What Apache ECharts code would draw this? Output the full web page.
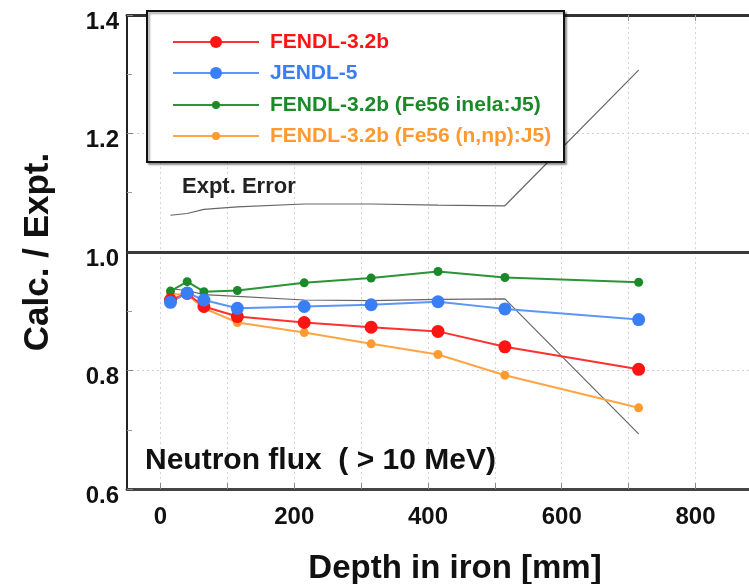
<!DOCTYPE html>
<html>
<head>
<meta charset="utf-8">
<script src="https://cdn.jsdelivr.net/npm/echarts@6/dist/echarts.min.js"></script>
<style>
  html, body { margin: 0; padding: 0; background: #fff; }
  #chart { width: 749px; height: 584px; }
</style>
</head>
<body>
<div id="chart"></div>
<script>
// Depth positions of the detectors in the iron assembly [mm]
const depth = [15, 40, 65, 115, 215, 315, 415, 515, 715];

// C/E ratios, neutron flux above 10 MeV
const fendl32b      = [0.919, 0.930, 0.908, 0.891, 0.881, 0.873, 0.866, 0.840, 0.802];
const jendl5        = [0.915, 0.931, 0.919, 0.905, 0.908, 0.911, 0.916, 0.904, 0.886];
const fendlInelaJ5  = [0.934, 0.950, 0.933, 0.935, 0.948, 0.956, 0.967, 0.957, 0.949];
const fendlNnpJ5    = [0.929, 0.928, 0.905, 0.881, 0.864, 0.845, 0.827, 0.792, 0.737];

// Experimental error band (upper / lower bounds around 1.0)
const errUpper = [1.062, 1.065, 1.072, 1.076, 1.081, 1.081, 1.079, 1.078, 1.307];
const errLower = [0.938, 0.935, 0.928, 0.925, 0.919, 0.918, 0.920, 0.921, 0.693];

// Axis tick values
const xLabelValues = [0, 200, 400, 600, 800];
const xTickValues  = [0, 100, 200, 300, 400, 500, 600, 700, 800];

const seriesNames = [
  'FENDL-3.2b',
  'JENDL-5',
  'FENDL-3.2b (Fe56 inela:J5)',
  'FENDL-3.2b (Fe56 (n,np):J5)'
];
const colors = ['#ff1414', '#3a7ef6', '#1a8a28', '#ff9a30'];
const lineColors = ['#ff3030', '#5c96f8', '#2a9436', '#ffa545'];

const FONT = '"Liberation Sans", Arial, Helvetica, sans-serif';

const pair = (ys) => depth.map((d, i) => [d, ys[i]]);

function dataSeries(idx, values, size, z) {
  return {
    name: seriesNames[idx],
    type: 'line',
    data: pair(values),
    symbol: 'circle',
    symbolSize: size,
    z: z,
    itemStyle: { color: colors[idx] },
    lineStyle: { color: lineColors[idx], width: 2 },
    emphasis: { disabled: true },
    animation: false
  };
}

const chart = echarts.init(document.getElementById('chart'), null, { renderer: 'canvas' });

chart.setOption({
  backgroundColor: '#ffffff',
  animation: false,
  textStyle: { fontFamily: FONT },
  grid: { left: 127, right: 0, top: 15, bottom: 95, containLabel: false, outerBoundsMode: 'none' },
  xAxis: [
    {
      type: 'value',
      position: 'bottom',
      min: -50,
      max: 880,
      name: 'Depth in iron [mm]',
      nameLocation: 'middle',
      nameGap: 63,
      nameTextStyle: {
        fontFamily: FONT, fontWeight: 'bold', fontSize: 33, color: '#111',
        padding: [0, 0, 0, 34]
      },
      axisLine: { show: true, onZero: false, lineStyle: { color: '#444', width: 3 } },
      axisTick: { show: true, inside: true, length: 6, customValues: xTickValues,
                  lineStyle: { color: '#888', width: 1 } },
      axisLabel: { customValues: xLabelValues, margin: 16,
                   fontFamily: FONT, fontWeight: 'bold', fontSize: 24, color: '#111' },
      splitLine: { show: false }
    },
    {
      type: 'value',
      position: 'top',
      min: -50,
      max: 880,
      axisLine: { show: true, onZero: false, lineStyle: { color: '#333', width: 3 } },
      axisTick: { show: true, inside: true, length: 6, customValues: xTickValues,
                  lineStyle: { color: '#999', width: 1 } },
      axisLabel: { show: false },
      splitLine: { show: false }
    }
  ],
  yAxis: {
    type: 'value',
    min: 0.6,
    max: 1.4,
    interval: 0.2,
    name: 'Calc. / Expt.',
    nameLocation: 'middle',
    nameGap: 71,
    nameTextStyle: { fontFamily: FONT, fontWeight: 'bold', fontSize: 35, color: '#111' },
    axisLine: { show: true, onZero: false, lineStyle: { color: '#222', width: 2 } },
    axisTick: { show: true, inside: true, length: 6, lineStyle: { color: '#888' } },
    minorTick: { show: true, splitNumber: 2, length: 5, lineStyle: { color: '#999' } },
    axisLabel: {
      margin: 8,
      verticalAlign: 'top',
      lineHeight: 14,
      fontFamily: FONT, fontWeight: 'bold', fontSize: 24, color: '#111',
      formatter: (v) => v.toFixed(1)
    },
    splitLine: { show: true, lineStyle: { color: '#d0d0d0', type: [2, 3], width: 1 } }
  },
  legend: [
    {
      data: [
        { name: seriesNames[0], textStyle: { color: colors[0] } },
        { name: seriesNames[1], textStyle: { color: colors[1] } }
      ],
      orient: 'vertical',
      left: 172,
      top: 31,
      padding: 0,
      itemWidth: 86,
      itemHeight: 15,
      itemGap: 9,
      z: 20,
      selectedMode: false,
      textStyle: { fontFamily: FONT, fontWeight: 'bold', fontSize: 21, lineHeight: 22,
                   padding: [0, 0, 0, 6] }
    },
    {
      data: [
        { name: seriesNames[2], textStyle: { color: colors[2] } },
        { name: seriesNames[3], textStyle: { color: colors[3] } }
      ],
      orient: 'vertical',
      left: 172,
      top: 94,
      padding: 0,
      itemWidth: 86,
      itemHeight: 10,
      itemGap: 9,
      z: 20,
      selectedMode: false,
      textStyle: { fontFamily: FONT, fontWeight: 'bold', fontSize: 21, lineHeight: 22,
                   padding: [0, 0, 0, 6] }
    }
  ],
  graphic: [
    {
      type: 'rect',
      z: 10,
      shape: { x: 147, y: 11, width: 417, height: 151 },
      style: {
        fill: '#ffffff', stroke: '#111', lineWidth: 2,
        shadowColor: 'rgba(0,0,0,0.35)', shadowBlur: 2, shadowOffsetX: 2, shadowOffsetY: 2
      }
    },
    {
      type: 'text',
      z: 5,
      left: 182,
      top: 176,
      style: { text: 'Expt. Error', fontFamily: FONT, fontWeight: 'bold', fontSize: 22, fill: '#222' }
    },
    {
      type: 'text',
      z: 5,
      left: 145,
      top: 446,
      style: { text: 'Neutron flux  ( > 10 MeV)', fontFamily: FONT, fontWeight: 'bold',
               fontSize: 30, fill: '#111' }
    }
  ],
  series: [
    {
      name: 'Expt. Error upper',
      type: 'line',
      data: pair(errUpper),
      symbol: 'none',
      z: 1,
      lineStyle: { color: '#666', width: 1.2 },
      emphasis: { disabled: true },
      markLine: {
        silent: true,
        symbol: 'none',
        label: { show: false },
        lineStyle: { color: '#3a3a3a', width: 3, type: 'solid' },
        data: [{ yAxis: 1.0 }]
      }
    },
    {
      name: 'Expt. Error lower',
      type: 'line',
      data: pair(errLower),
      symbol: 'none',
      z: 1,
      lineStyle: { color: '#666', width: 1.2 },
      emphasis: { disabled: true },
      // faint vertical grid at every 100 mm
      markLine: {
        silent: true,
        symbol: 'none',
        label: { show: false },
        z: 0,
        lineStyle: { color: '#d4d4d4', width: 1, type: [2, 3] },
        data: xTickValues.map((v) => ({ xAxis: v }))
      }
    },
    dataSeries(3, fendlNnpJ5, 9, 3),
    dataSeries(2, fendlInelaJ5, 9, 3),
    dataSeries(0, fendl32b, 13, 4),
    dataSeries(1, jendl5, 13, 4)
  ]
});
</script>
</body>
</html>
